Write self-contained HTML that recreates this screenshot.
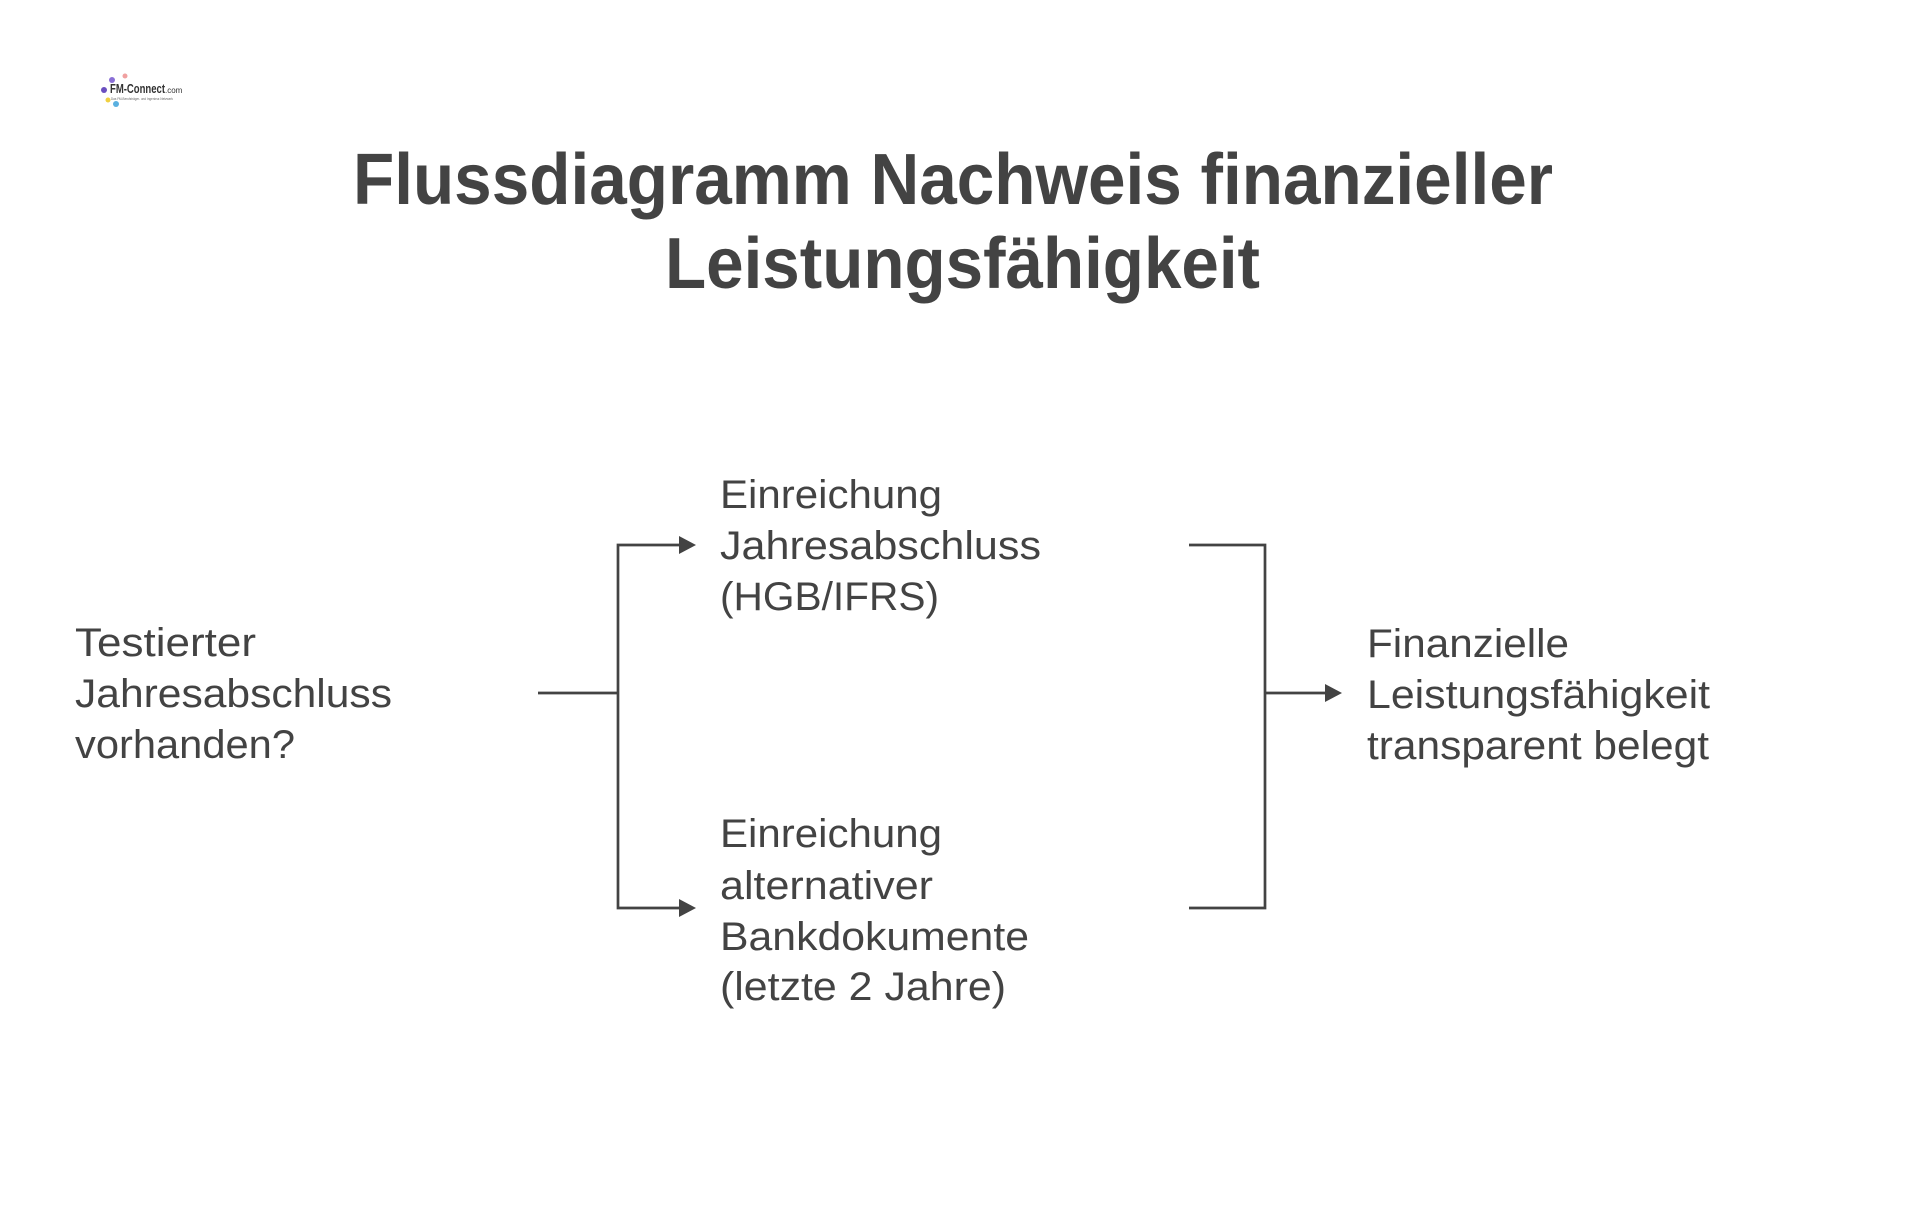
<!DOCTYPE html>
<html><head><meta charset="utf-8"><style>
html,body{margin:0;padding:0;background:#fff;}
svg{display:block;}
text{font-family:"Liberation Sans",sans-serif;fill:#434343;}
</style></head><body>
<svg width="1920" height="1215" viewBox="0 0 1920 1215" xmlns="http://www.w3.org/2000/svg">
<g>
<circle cx="112" cy="80" r="3" fill="#8a6fd6"/>
<circle cx="104" cy="90" r="3" fill="#6a4fc0"/>
<circle cx="116" cy="104" r="3" fill="#5ab0e0"/>
<circle cx="108" cy="100" r="2.5" fill="#f0d040"/>
<circle cx="125" cy="76" r="2.5" fill="#f0a0a0"/>
<text x="110" y="93" font-size="13" font-weight="bold" style="fill:#333" textLength="55" lengthAdjust="spacingAndGlyphs">FM-Connect</text>
<text x="165" y="93" font-size="8" style="fill:#333">.com</text>
<text x="111" y="100" font-size="4" style="fill:#666" textLength="62" lengthAdjust="spacingAndGlyphs">Das FM-Berufsträger- und Ingenieur-Netzwerk</text>
</g>
<text x="353" y="204" font-size="72" font-weight="bold" textLength="1200" lengthAdjust="spacingAndGlyphs">Flussdiagramm Nachweis finanzieller</text>
<text x="665" y="288" font-size="72" font-weight="bold" textLength="595" lengthAdjust="spacingAndGlyphs">Leistungsfähigkeit</text>
<g stroke="#434343" stroke-width="2.7" fill="none">
<line x1="538" y1="693" x2="618" y2="693"/>
<polyline points="681,545 618,545 618,908 681,908"/>
<polyline points="1189,545 1265,545 1265,908 1189,908"/>
<line x1="1265" y1="693" x2="1328" y2="693"/>
</g>
<g fill="#434343">
<polygon points="679,536 696,545 679,554"/>
<polygon points="679,899 696,908 679,917"/>
<polygon points="1325,684 1342,693 1325,702"/>
</g>
<g font-size="40">
<text x="75" y="656" textLength="181" lengthAdjust="spacingAndGlyphs">Testierter</text>
<text x="75" y="707" textLength="317" lengthAdjust="spacingAndGlyphs">Jahresabschluss</text>
<text x="75" y="758" textLength="220" lengthAdjust="spacingAndGlyphs">vorhanden?</text>

<text x="720" y="508" textLength="222" lengthAdjust="spacingAndGlyphs">Einreichung</text>
<text x="720" y="559" textLength="321" lengthAdjust="spacingAndGlyphs">Jahresabschluss</text>
<text x="720" y="610" textLength="219" lengthAdjust="spacingAndGlyphs">(HGB/IFRS)</text>

<text x="720" y="847" textLength="222" lengthAdjust="spacingAndGlyphs">Einreichung</text>
<text x="720" y="899" textLength="213" lengthAdjust="spacingAndGlyphs">alternativer</text>
<text x="720" y="950" textLength="309" lengthAdjust="spacingAndGlyphs">Bankdokumente</text>
<text x="720" y="1000" textLength="286" lengthAdjust="spacingAndGlyphs">(letzte 2 Jahre)</text>

<text x="1367" y="657" textLength="202" lengthAdjust="spacingAndGlyphs">Finanzielle</text>
<text x="1367" y="708" textLength="343" lengthAdjust="spacingAndGlyphs">Leistungsfähigkeit</text>
<text x="1367" y="759" textLength="342" lengthAdjust="spacingAndGlyphs">transparent belegt</text>
</g>
</svg>
</body></html>
